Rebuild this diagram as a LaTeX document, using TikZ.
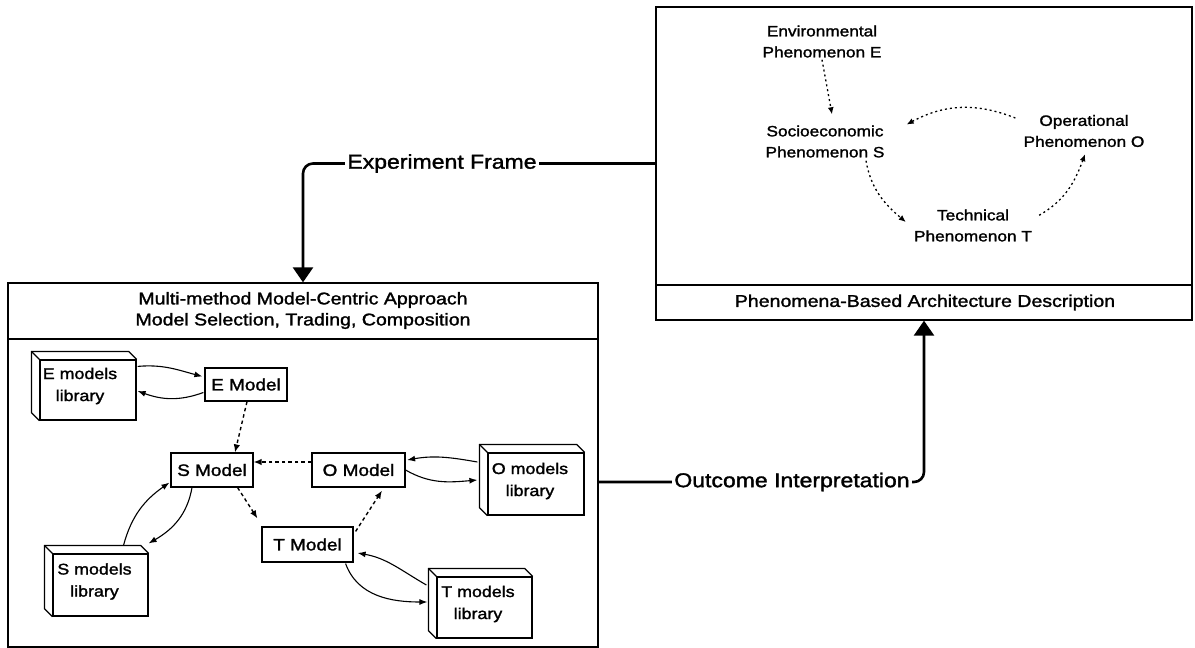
\documentclass[tikz,border=0pt]{standalone}
\usepackage{fontspec}
\setmainfont{Liberation Sans}[FakeStretch=1.15,FakeBold=1.6]
\usetikzlibrary{arrows.meta}

% side and top faces of a library block (depth to the upper left)
\newcommand\libfaces[1]{%
  \draw[line width=1.2pt, line join=round]
    (#1.north east) -- ++(-8,8) -- ([shift={(-8,8)}]#1.north west)
    -- ([shift={(-8,8)}]#1.south west) -- (#1.south west);
  \draw[line width=1.2pt] (#1.north west) -- ++(-8,8);}

\begin{document}
\begin{tikzpicture}[x=1pt,y=1pt,
  frame/.style={draw, line width=1.3pt, inner sep=0pt},
  mbox/.style={draw, line width=1.2pt, inner sep=0pt, minimum height=34pt,
    font=\fontsize{16.5}{20}\selectfont},
  libbox/.style={draw, line width=1.2pt, inner sep=0pt},
  libtext/.style={align=center, inner sep=0pt, font=\fontsize{15.5}{22}\selectfont},
  phentext/.style={align=center, inner sep=0pt, font=\fontsize{15}{21}\selectfont},
  titletext/.style={align=center, inner sep=0pt, font=\fontsize{17}{21}\selectfont},
  flow/.style={line width=2.6pt, rounded corners=10pt,
    -{Triangle[length=15pt,width=20pt]}},
  flowlabel/.style={fill=white, inner sep=2pt, font=\fontsize{20}{24}\selectfont},
  swap/.style={line width=1.1pt, -{Latex[length=8pt,width=6pt]}},
  dep/.style={line width=1.4pt, dash pattern=on 3.5pt off 3pt,
    -{Latex[length=8pt,width=6.5pt]}},
  cause/.style={line width=1.3pt, dash pattern=on 2pt off 3pt,
    -{Latex[length=7pt,width=6pt]}},
]
\useasboundingbox (0,0) rectangle (1195,-648);

% ---------- phenomena-based architecture description ----------
\node[frame, minimum width=536pt, minimum height=313pt] (phen) at (924,-163.5) {};
\coordinate (capline) at (0,-285);
\draw[line width=1.3pt] (phen.west |- capline) -- (phen.east |- capline);
\node[inner sep=0pt, font=\fontsize{17}{20}\selectfont] (capt) at (925,-302.5)
  {Phenomena-Based Architecture Description};

\node[phentext] (pe) at (822,-41.5) {Environmental\\Phenomenon E};
\node[phentext] (ps) at (825,-141.5) {Socioeconomic\\Phenomenon S};
\node[phentext] (po) at (1084,-131) {Operational\\Phenomenon O};
\node[phentext] (pt) at (973,-225.5) {Technical\\Phenomenon T};

\draw[cause] ([yshift=-2]pe.south) -- ([shift={(7,11)}]ps.north);
\draw[cause] ([shift={(-8,13)}]po.west) to[bend right=25] ([shift={(22,17)}]ps.east);
\draw[cause] ([shift={(41,-3)}]ps.south) to[out=-80,in=140] ([shift={(-8,3.5)}]pt.west);
\draw[cause] ([shift={(7,-6)}]pt.north east) to[out=30,in=-110] ([shift={(1,-7)}]po.south);

% ---------- multi-method model-centric approach ----------
\node[frame, minimum width=590pt, minimum height=364pt] (mmca) at (303,-465) {};
\coordinate (titleline) at (0,-339);
\draw[line width=1.3pt] (mmca.west |- titleline) -- (mmca.east |- titleline);
\node[titletext] (mtitle) at (303,-310.5)
  {Multi-method Model-Centric Approach\\Model Selection, Trading, Composition};

% models
\node[mbox, minimum width=82pt, minimum height=33pt] (emod) at (246,-384.5) {E Model};
\node[mbox, minimum width=82pt] (smod) at (212,-470) {S Model};
\node[mbox, minimum width=93pt] (omod) at (358.5,-470) {O Model};
\node[mbox, minimum width=91pt, minimum height=35pt] (tmod) at (307.5,-544.5) {T Model};

% model libraries
\node[libbox, minimum width=96pt, minimum height=60pt] (elib) at (88,-390) {};
\node[libbox, minimum width=95pt, minimum height=62pt] (slib) at (100.5,-585) {};
\node[libbox, minimum width=96pt, minimum height=62pt] (olib) at (536,-484) {};
\node[libbox, minimum width=95pt, minimum height=61pt] (tlib) at (484.5,-607.5) {};
\libfaces{elib}
\libfaces{slib}
\libfaces{olib}
\libfaces{tlib}
\node[libtext] (elibt) at (80,-386) {E models\\library};
\node[libtext] (slibt) at (94.5,-581.5) {S models\\library};
\node[libtext] (olibt) at (530,-481) {O models\\library};
\node[libtext] (tlibt) at (478,-604) {T models\\library};

% library exchanges
\draw[swap] ([shift={(1,-7)}]elib.north east) to[out=5,in=165] ([shift={(-2,8)}]emod.west);
\draw[swap] ([shift={(-1,-8)}]emod.west) to[out=200,in=-20] ([shift={(1,-1)}]elib.east);
\draw[swap] ([shift={(23,8)}]slib.north) to[out=75,in=-145] ([shift={(-1,5)}]smod.south west);
\draw[swap] ([xshift=-20]smod.south) to[out=-100,in=30] ([yshift=10]slib.north east);
\draw[swap] ([shift={(-10,22)}]olib.west) to[out=170,in=10] ([shift={(1.5,10)}]omod.east);
\draw[swap] (omod.east) to[out=-30,in=185] ([shift={(-10,4)}]olib.west);
\draw[swap] ([shift={(-10,22.5)}]tlib.west) to[out=150,in=-10] ([shift={(4,-8.5)}]tmod.east);
\draw[swap] ([shift={(-8,-1)}]tmod.south east) to[out=-70,in=180] ([shift={(-9,5.5)}]tlib.west);

% model dependencies
\draw[dep] ([xshift=1]emod.south) -- ([xshift=23]smod.north);
\draw[dep] ([yshift=8]omod.west) -- ([yshift=8]smod.east);
\draw[dep] ([xshift=-16]smod.south east) -- ([shift={(-4,8)}]tmod.north west);
\draw[dep] ([shift={(2,-5)}]tmod.north east) -- ([shift={(23.5,-3)}]omod.south);

% ---------- flows between the two views ----------
\draw[flow] (phen.west) -| (mmca.north);
\node[flowlabel] (eflab) at (442,-163.5) {Experiment Frame};

\coordinate (oturn) at (924,-482);
\draw[flow] (mmca.east |- oturn) -| (phen.south);
\node[flowlabel] (oilab) at (792,-482) {Outcome Interpretation};
\end{tikzpicture}
\end{document}
